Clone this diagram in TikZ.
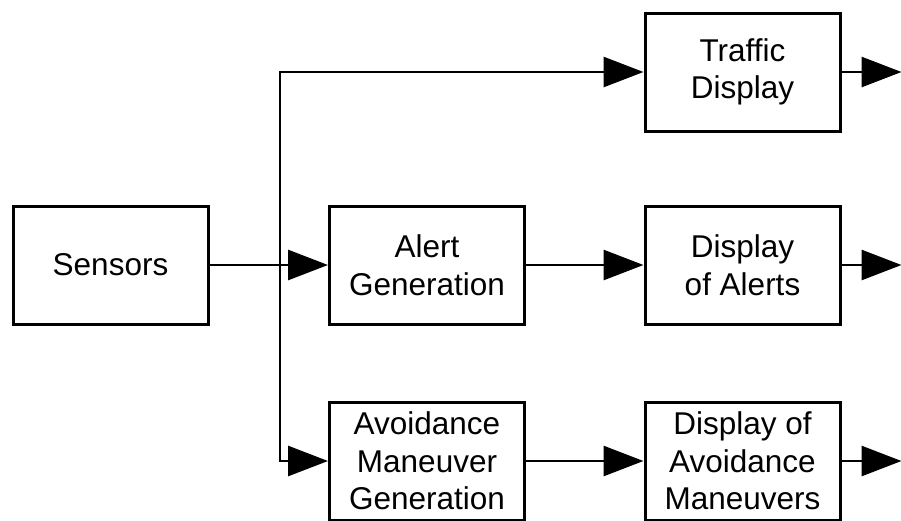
\documentclass[tikz,border=0pt]{standalone}
\usepackage{fontspec}
\setmainfont{Liberation Sans}
\usetikzlibrary{positioning,arrows.meta,calc}

\begin{document}
\begin{tikzpicture}[x=1pt,y=-1pt,
  font=\fontsize{31.5}{37.5}\selectfont,
  blockbox/.style={draw,line width=3pt,align=center,inner sep=0pt,
    minimum width=195pt,minimum height=118pt},
  flow/.style={line width=2.8pt,-{Triangle[length=40pt,width=30pt]}}]
\useasboundingbox (0,0) rectangle (901,520);
\begin{scope}
\clip (0,0) rectangle (901,520);
% Blocks: sensors on the left, processing in the middle, displays on the right.
\node[blockbox] (sensors) at (110.5,265) {Sensors};
\node[blockbox] (alertgen) at (427,265) {Alert\\Generation};
\node[blockbox] (avoidgen) at (427,461) {Avoidance\\Maneuver\\Generation};
\node[blockbox] (traffic) at (742.5,72) {Traffic\\Display};
\node[blockbox] (alertdisp) at (742.5,265) {Display\\of Alerts};
\node[blockbox] (avoiddisp) at (742.5,461) {Display of\\Avoidance\\Maneuvers};
% Branch point on the sensor line.
\coordinate (split) at (280,265);
\draw[flow] (sensors) -- (alertgen);
\draw[flow] (split) |- (traffic);
\draw[flow] (split) |- (avoidgen);
\draw[flow] (alertgen) -- (alertdisp);
\draw[flow] (avoidgen) -- (avoiddisp);
% Outputs leaving the right edge.
\foreach \d in {traffic,alertdisp,avoiddisp}{
  \coordinate (\d-out) at ($(\d.east)+(60,0)$);
  \draw[flow] (\d) -- (\d-out);
}
\end{scope}
\end{tikzpicture}
\end{document}
